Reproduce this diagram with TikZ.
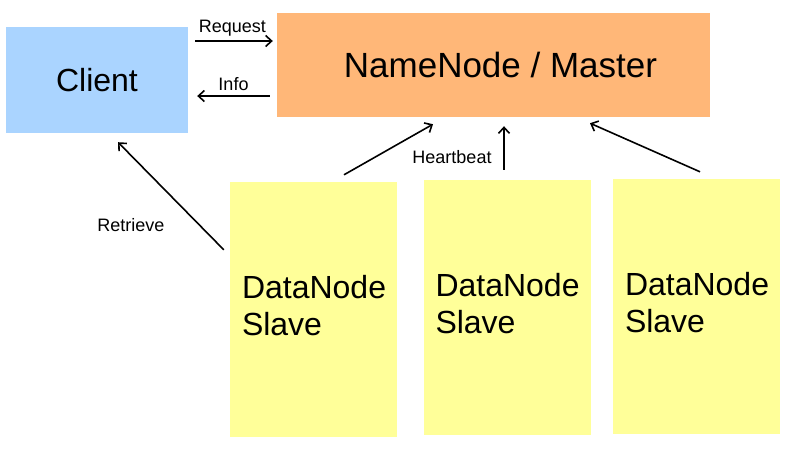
\documentclass[tikz,border=0pt]{standalone}
\usepackage{fontspec}
\setmainfont{Liberation Sans}
\definecolor{clientblue}{RGB}{170,212,255}
\definecolor{masterorange}{RGB}{255,183,120}
\definecolor{slaveyellow}{RGB}{255,255,153}
\newcommand{\slavetext}{\raisebox{7pt}{\begin{tabular}{@{}l@{}}DataNode\\Slave\end{tabular}}}
\tikzset{
    box/.style={draw=none,rectangle,inner sep=0pt},
    slavebox/.style={box,fill=slaveyellow,minimum height=255pt,inner xsep=12pt,text width=143pt,align=left,
        font=\fontsize{32}{37}\selectfont},
    lbl/.style={font=\fontsize{18}{20}\selectfont},
    arr/.style={-{Straight Barb[length=6pt,width=11pt]},line width=1.6pt,black},
}
\usetikzlibrary{arrows.meta}
\begin{document}
\begin{tikzpicture}[x=1pt,y=-1pt]
    \useasboundingbox (0,0) rectangle (800,450);
    %% Client and master
    \node[box,fill=clientblue,minimum width=182pt,minimum height=106pt,font=\fontsize{32}{36}\selectfont] (client) at (97,80) {Client};
    \node[box,fill=masterorange,minimum width=433pt,minimum height=104pt,font=\fontsize{35}{40}\selectfont] (master) at (493.5,65) {\hspace*{14pt}NameNode / Master};
    %% Slaves
    \node[slavebox] (dn1) at (313.5,309.5) {\slavetext};
    \node[slavebox] (dn2) at (507,307.5) {\slavetext};
    \node[slavebox] (dn3) at (696.5,306.5) {\slavetext};
    %% Client <-> master
    \draw[arr] ([xshift=7pt,yshift=39pt]client.east) -- ([xshift=-4pt,yshift=24pt]master.west) node[lbl,pos=0.48,above=1pt] (request) {Request};
    \draw[arr] ([xshift=-7pt,yshift=-31pt]master.west) -- ([xshift=9pt,yshift=-16pt]client.east) node[lbl,pos=0.5,above=1pt] (info) {Info};
    %% Retrieve
    \draw[arr] ([xshift=-6pt,yshift=-68pt]dn1.north west) -- ([xshift=21pt,yshift=-9pt]client.south);
    \node[lbl] (retrieve) at (131,225) {Retrieve};
    %% Heartbeats
    \draw[arr] ([xshift=30.5pt,yshift=7pt]dn1.north) -- ([xshift=-60.5pt,yshift=-7pt]master.south);
    \draw[arr] ([xshift=-3pt,yshift=10pt]dn2.north) -- ([xshift=10.5pt,yshift=-9pt]master.south);
    \draw[arr] ([xshift=3.5pt,yshift=7pt]dn3.north) -- ([xshift=96.5pt,yshift=-6pt]master.south);
    \node[lbl] (heartbeat) at (452,157) {Heartbeat};
\end{tikzpicture}
\end{document}
